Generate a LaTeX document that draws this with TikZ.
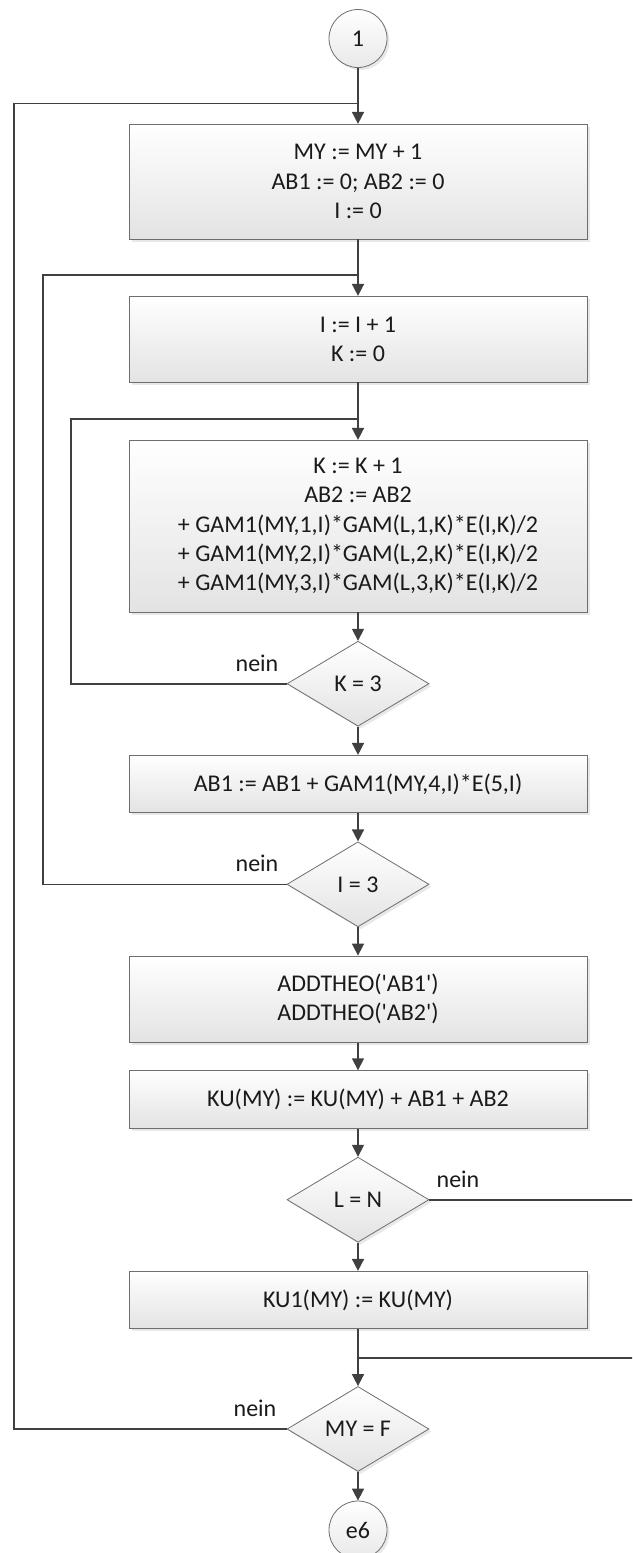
\documentclass[tikz,border=0pt]{standalone}
\usepackage{fontspec}
\setmainfont{Carlito}
\usetikzlibrary{arrows.meta,shapes.geometric,shadows}

\definecolor{linec}{HTML}{404040}
\definecolor{edgec}{HTML}{6E6E6E}
\definecolor{shadec}{HTML}{E3E3E3}
\definecolor{textc}{HTML}{1A1A1A}

\tikzset{
  base/.style={draw=edgec, line width=0.8pt, top color=white, bottom color=shadec,
    drop shadow={shadow xshift=2.5pt, shadow yshift=-2.5pt, opacity=0.18},
    font=\fontsize{24}{29.3}\selectfont, text=textc, inner sep=0pt},
  procbox/.style={base, rectangle, minimum width=458pt, align=center},
  decision/.style={base, diamond, aspect=1.67, minimum width=142pt, minimum height=85pt},
  connector/.style={base, circle, minimum size=58pt, top color=white, bottom color=shadec!80},
  flow/.style={draw=linec, line width=1.6pt},
  arr/.style={flow, -{Triangle[length=12pt,width=12pt]}},
  lbl/.style={font=\fontsize{24}{29.3}\selectfont, text=textc, inner sep=0pt, anchor=base},
}

\begin{document}
\begin{tikzpicture}[x=1pt, y=-1pt]
  \path[use as bounding box] (0,0) rectangle (632,1553);
  \clip (0,0) rectangle (632,1553);

  % nodes of the flow
  \node[connector] (c1) at (358,38.5) {1};
  \node[procbox, minimum height=114.7pt] (b1) at (358,181.65)
    {MY := MY + 1\\AB1 := 0; AB2 := 0\\I := 0};
  \node[procbox, minimum height=85.7pt] (b2) at (358,339.15)
    {I := I + 1\\K := 0};
  \node[procbox, minimum height=171.7pt] (b3) at (358,526.15)
    {K := K + 1\\AB2 := AB2\\+ GAM1(MY,1,I)*GAM(L,1,K)*E(I,K)/2\\+ GAM1(MY,2,I)*GAM(L,2,K)*E(I,K)/2\\+ GAM1(MY,3,I)*GAM(L,3,K)*E(I,K)/2};
  \node[decision] (dK) at (358,683.7) {K = 3};
  \node[procbox, minimum height=57.4pt] (b4) at (358,784)
    {AB1 := AB1 + GAM1(MY,4,I)*E(5,I)};
  \node[decision] (dI) at (358,884.3) {I = 3};
  \node[procbox, minimum height=86.3pt] (b5) at (358,999.15)
    {ADDTHEO(\textquotesingle AB1\textquotesingle)\\ADDTHEO(\textquotesingle AB2\textquotesingle)};
  \node[procbox, minimum height=57.6pt] (b6) at (358,1099.5)
    {KU(MY) := KU(MY) + AB1 + AB2};
  \node[decision] (dL) at (358,1199.7) {L = N};
  \node[procbox, minimum height=57.4pt] (b7) at (358,1300)
    {KU1(MY) := KU(MY)};
  \node[decision] (dMY) at (358,1429) {MY = F};
  \node[connector] (e6) at (358,1530) {e6};

  % junctions and loop corners
  \coordinate (j1) at (358,103.3);
  \coordinate (j2) at (358,275);
  \coordinate (j3) at (358,419);
  \coordinate (j4) at (358,1357.7);
  \coordinate (l1) at (14,103.3);
  \coordinate (l2) at (42.7,275);
  \coordinate (l3) at (71,419);
  \coordinate (r1) at (645,1199.7);

  % main line
  \draw[arr] (c1.south) -- (b1.north);
  \draw[arr] (b1.south) -- (b2.north);
  \draw[arr] (b2.south) -- (b3.north);
  \draw[arr] (b3.south) -- (dK.north);
  \draw[arr] (dK.south) -- (b4.north);
  \draw[arr] (b4.south) -- (dI.north);
  \draw[arr] (dI.south) -- (b5.north);
  \draw[arr] (b5.south) -- (b6.north);
  \draw[arr] (b6.south) -- (dL.north);
  \draw[arr] (dL.south) -- (b7.north);
  \draw[arr] (b7.south) -- (dMY.north);
  \draw[arr] (dMY.south) -- (e6.north);

  % loops back
  \draw[flow] (dMY.west) -| (l1) -- (j1);
  \draw[flow] (dI.west) -| (l2) -- (j2);
  \draw[flow] (dK.west) -| (l3) -- (j3);
  \draw[flow] (dL.east) -- (r1) |- (j4);

  % branch labels
  \node[lbl] (n1) at (257,671.5) {nein};
  \node[lbl] (n2) at (257,871) {nein};
  \node[lbl] (n3) at (255,1416) {nein};
  \node[lbl] (n4) at (458,1187.7) {nein};
\end{tikzpicture}
\end{document}
